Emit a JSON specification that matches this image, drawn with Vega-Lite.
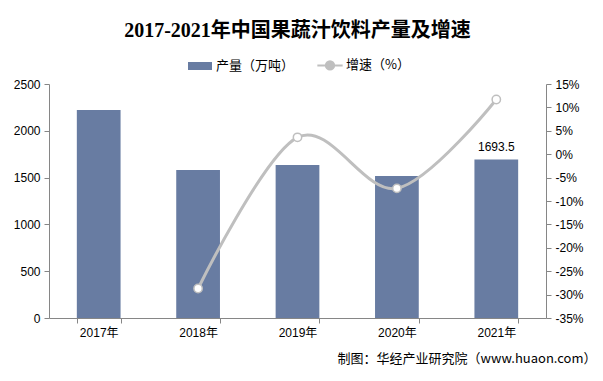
{
  "$schema": "https://vega.github.io/schema/vega-lite/v6.json",
  "width": 497,
  "height": 234,
  "autosize": {"type": "none"},
  "padding": {"left": 49, "top": 84, "right": 57, "bottom": 63},
  "background": "white",
  "title": {
    "text": "2017-2021年中国果蔬汁饮料产量及增速",
    "font": "Liberation Serif, Noto Sans CJK SC",
    "fontSize": 20,
    "fontWeight": "bold",
    "color": "#000000",
    "anchor": "middle",
    "offset": 12
  },
  "data": {
    "values": [
      {"year": "2017年", "output": 2222, "growth": null},
      {"year": "2018年", "output": 1581, "growth": -28.7},
      {"year": "2019年", "output": 1635, "growth": 3.6},
      {"year": "2020年", "output": 1517, "growth": -7.3},
      {"year": "2021年", "output": 1693.5, "growth": 11.7}
    ]
  },
  "encoding": {
    "x": {
      "field": "year",
      "type": "nominal",
      "sort": null,
      "scale": {"paddingInner": 0.56, "paddingOuter": 0.28},
      "axis": {
        "title": "制图：华经产业研究院（www.huaon.com）",
        "titleFont": "Noto Sans CJK SC",
        "titleFontSize": 13,
        "titleFontWeight": "normal",
        "titleColor": "#000000",
        "titleAnchor": "end",
        "titleAlign": "right",
        "titleBaseline": "middle",
        "titleX": 547,
        "titleY": 40,
        "labelAngle": 0,
        "labelFont": "Liberation Sans, Noto Sans CJK SC",
        "labelFontSize": 12,
        "labelColor": "#000000",
        "labelPadding": 4,
        "tickBand": "extent",
        "tickSize": 5,
        "tickColor": "#868686",
        "domainColor": "#868686"
      }
    }
  },
  "layer": [
    {
      "encoding": {
        "y": {
          "field": "output",
          "type": "quantitative",
          "scale": {"domain": [0, 2500], "nice": false},
          "axis": {
            "title": null,
            "values": [0, 500, 1000, 1500, 2000, 2500],
            "format": "d",
            "grid": false,
            "labelFont": "Liberation Sans",
            "labelFontSize": 12,
            "labelColor": "#000000",
            "tickSize": 5,
            "tickColor": "#868686",
            "domainColor": "#868686",
            "labelPadding": 4
          }
        }
      },
      "layer": [
        {
          "mark": {"type": "bar"},
          "encoding": {
            "color": {
              "datum": "产量（万吨）",
              "type": "nominal",
              "scale": {
                "domain": ["产量（万吨）", "增速（%）"],
                "range": ["#687CA2", "#BFBFBF"]
              },
              "legend": {
                "title": null,
                "orient": "none",
                "direction": "horizontal",
                "legendX": 139,
                "legendY": -31,
                "labelFont": "Noto Sans CJK SC",
                "labelFontSize": 13,
                "labelColor": "#000000",
                "symbolSize": 484,
                "columnPadding": 18,
                "labelOffset": 4,
                "encode": {
                  "symbols": {
                    "update": {
                      "shape": {"signal": "datum.label == '产量（万吨）' ? 'M-1,-0.28L1,-0.28L1,0.28L-1,0.28Z' : 'M-1.15,0L-0.38,0M0.38,0L1.15,0M-0.38,0A0.38,0.38 0 1,1 0.38,0A0.38,0.38 0 1,1 -0.38,0'"},
                      "fill": {"signal": "datum.label == '产量（万吨）' ? '#687CA2' : '#FFFFFF'"},
                      "stroke": {"signal": "datum.label == '产量（万吨）' ? 'transparent' : '#BFBFBF'"},
                      "strokeWidth": {"value": 2},
                      "opacity": {"value": 1}
                    }
                  }
                }
              }
            }
          }
        },
        {
          "transform": [{"filter": "datum.year == '2021年'"}],
          "mark": {"type": "text", "dy": -12, "font": "Liberation Sans", "fontSize": 12, "color": "#000000"},
          "encoding": {
            "text": {"field": "output", "type": "quantitative", "format": ".1f"}
          }
        }
      ]
    },
    {
      "transform": [{"filter": "datum.growth != null"}],
      "encoding": {
        "y": {
          "field": "growth",
          "type": "quantitative",
          "scale": {"domain": [-35, 15], "nice": false},
          "axis": {
            "orient": "right",
            "title": null,
            "values": [-35, -30, -25, -20, -15, -10, -5, 0, 5, 10, 15],
            "labelExpr": "datum.value + '%'",
            "grid": false,
            "labelFont": "Liberation Sans",
            "labelFontSize": 12,
            "labelColor": "#000000",
            "tickSize": 5,
            "tickColor": "#868686",
            "domainColor": "#868686",
            "labelPadding": 4
          }
        }
      },
      "layer": [
        {
          "mark": {"type": "line", "interpolate": "cardinal", "strokeWidth": 3},
          "encoding": {
            "color": {"datum": "增速（%）", "type": "nominal"}
          }
        },
        {
          "mark": {"type": "point", "filled": true, "fill": "#FFFFFF", "stroke": "#BFBFBF", "strokeWidth": 1.5, "size": 70, "opacity": 1}
        }
      ]
    }
  ],
  "resolve": {"scale": {"y": "independent"}},
  "config": {
    "view": {"stroke": null}
  }
}
